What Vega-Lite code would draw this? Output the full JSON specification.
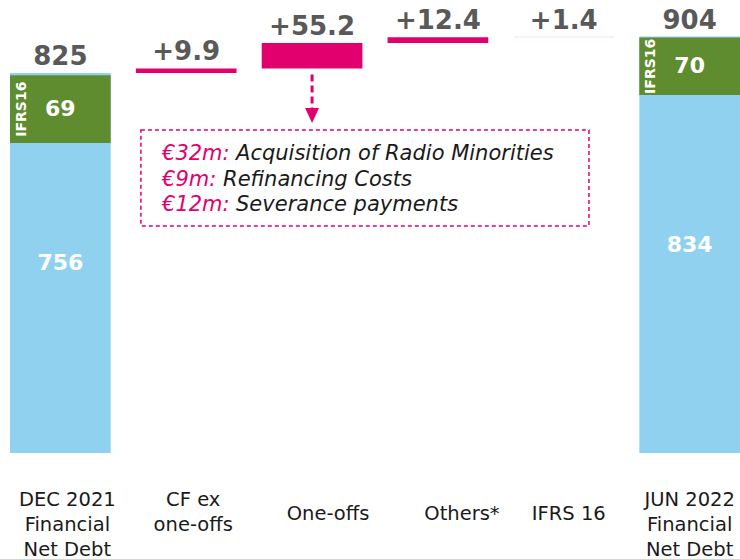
{
  "$schema": "https://vega.github.io/schema/vega-lite/v6.json",
  "width": 730,
  "height": 453,
  "autosize": {"type": "none"},
  "padding": {"left": 10, "top": 0, "right": 0, "bottom": 106},
  "config": {"view": {"stroke": null}, "font": "DejaVu Sans"},
  "datasets": {
    "bars": [
      {"cat": "DEC 2021|Financial|Net Debt", "seg": "base", "start": 0, "end": 825, "top": "825", "inl": "756"},
      {"cat": "DEC 2021|Financial|Net Debt", "seg": "ifrs", "start": 673, "end": 820, "inl": "69"},
      {"cat": "CF ex|one-offs", "seg": "up", "start": 825, "end": 834.9, "top": "+9.9"},
      {"cat": "One-offs", "seg": "up", "start": 834.9, "end": 890.1, "top": "+55.2"},
      {"cat": "Others*", "seg": "up", "start": 890.1, "end": 902.5, "top": "+12.4"},
      {"cat": "IFRS 16", "seg": "small", "start": 902.5, "end": 903.9, "top": "+1.4"},
      {"cat": "JUN 2022|Financial|Net Debt", "seg": "base", "start": 0, "end": 904, "top": "904", "inl": "834"},
      {"cat": "JUN 2022|Financial|Net Debt", "seg": "ifrs", "start": 777, "end": 902, "inl": "70"}
    ]
  },
  "encoding": {
    "x": {
      "field": "cat",
      "type": "nominal",
      "sort": null,
      "title": null,
      "scale": {
        "domain": ["DEC 2021|Financial|Net Debt", "CF ex|one-offs", "One-offs", "Others*", "IFRS 16", "JUN 2022|Financial|Net Debt"],
        "paddingInner": 0.2,
        "paddingOuter": 0
      },
      "axis": {
        "labelExpr": "split(datum.label, '|')",
        "labelFont": "DejaVu Sans",
        "labelFontSize": 19.5,
        "labelLineHeight": 25.3,
        "labelBaseline": "top",
        "labelAngle": 0,
        "labelColor": "#1a1a1a",
        "labelLimit": 300,
        "labelOverlap": false,
        "ticks": false,
        "tickSize": 0,
        "domain": false,
        "labelPadding": {"condition": {"test": "indexof(datum.value, '|') < 0", "value": 51}, "value": 37},
        "labelOffset": {
          "condition": [
            {"test": "datum.value == 'One-offs'", "value": 16},
            {"test": "datum.value == 'Others*'", "value": 24},
            {"test": "datum.value == 'IFRS 16'", "value": 5},
            {"test": "indexof(datum.value, 'JUN') == 0", "value": 0}
          ],
          "value": 7
        }
      }
    }
  },
  "layer": [
    {
      "data": {"name": "bars"},
      "mark": {"type": "bar"},
      "encoding": {
        "y": {"field": "start", "type": "quantitative", "scale": {"domain": [0, 983.5], "nice": false}, "axis": null},
        "y2": {"field": "end"},
        "color": {
          "field": "seg",
          "type": "nominal",
          "scale": {"domain": ["base", "ifrs", "up", "small"], "range": ["#8fd1ef", "#5f8c2f", "#e1006e", "#f4c3d4"]},
          "legend": null
        }
      }
    },
    {
      "data": {"name": "bars"},
      "transform": [{"filter": "datum.top != null"}],
      "mark": {"type": "text", "baseline": "alphabetic", "align": "center", "dy": -8, "fontSize": 26, "fontWeight": "bold", "font": "DejaVu Sans", "color": "#595959"},
      "encoding": {
        "y": {"field": "end", "type": "quantitative", "scale": {"domain": [0, 983.5], "nice": false}, "axis": null},
        "text": {"field": "top"}
      }
    },
    {
      "data": {"name": "bars"},
      "transform": [
        {"filter": "datum.inl != null"},
        {"fold": ["start", "end"], "as": ["k", "v"]},
        {"aggregate": [{"op": "mean", "field": "v", "as": "mid"}], "groupby": ["cat", "seg", "inl"]}
      ],
      "layer": [
        {
          "mark": {"type": "text", "baseline": "middle", "align": "center", "fontSize": 22, "fontWeight": "bold", "font": "DejaVu Sans", "color": "#ffffff"},
          "encoding": {
            "y": {"field": "mid", "type": "quantitative", "scale": {"domain": [0, 983.5], "nice": false}, "axis": null},
            "text": {"field": "inl"}
          }
        },
        {
          "transform": [{"filter": "datum.seg == 'ifrs'"}],
          "mark": {"type": "text", "baseline": "middle", "align": "center", "angle": 270, "fontSize": 14, "fontWeight": "bold", "font": "DejaVu Sans", "color": "#ffffff"},
          "encoding": {
            "x": {"field": "cat", "type": "nominal", "sort": null, "bandPosition": 0.12},
            "y": {"field": "mid", "type": "quantitative", "scale": {"domain": [0, 983.5], "nice": false}, "axis": null},
            "text": {"value": "IFRS16"}
          }
        }
      ]
    },
    {
      "data": {"values": [{}]},
      "mark": {"type": "rect", "fill": "transparent", "stroke": "#e1006e", "strokeDash": [4, 3], "strokeWidth": 1.5},
      "encoding": {
        "x": {"datum": "CF ex|one-offs", "type": "nominal", "bandPosition": 0.05},
        "x2": {"datum": "IFRS 16", "bandPosition": 0.75},
        "y": {"datum": 701, "type": "quantitative", "scale": {"domain": [0, 983.5], "nice": false}, "axis": null},
        "y2": {"datum": 493}
      }
    },
    {
      "data": {"values": [{}]},
      "mark": {"type": "rule", "color": "#e1006e", "strokeDash": [7, 4], "strokeWidth": 3},
      "encoding": {
        "x": {"datum": "One-offs", "type": "nominal", "bandPosition": 0.5},
        "y": {"datum": 822, "type": "quantitative", "scale": {"domain": [0, 983.5], "nice": false}, "axis": null},
        "y2": {"datum": 749}
      }
    },
    {
      "data": {"values": [{}]},
      "mark": {"type": "point", "shape": "M-0.93,-1L0.93,-1L0,1Z", "size": 225, "filled": true, "color": "#e1006e", "opacity": 1, "strokeWidth": 0},
      "encoding": {
        "x": {"datum": "One-offs", "type": "nominal", "bandPosition": 0.5},
        "y": {"datum": 732.7, "type": "quantitative", "scale": {"domain": [0, 983.5], "nice": false}, "axis": null}
      }
    },
    {
      "data": {"values": [{}]},
      "mark": {"type": "text", "align": "left", "baseline": "alphabetic", "lineHeight": 25.5, "fontSize": 21, "fontStyle": "italic", "font": "DejaVu Sans", "color": "#e1006e"},
      "encoding": {
        "x": {"datum": "CF ex|one-offs", "type": "nominal", "bandPosition": 0.26},
        "y": {"datum": 636, "type": "quantitative", "scale": {"domain": [0, 983.5], "nice": false}, "axis": null},
        "text": {"value": ["€32m:", "€9m:", "€12m:"]}
      }
    },
    {
      "data": {"values": [{}]},
      "mark": {"type": "text", "align": "left", "baseline": "alphabetic", "dx": 74, "dy": 0, "fontSize": 21, "fontStyle": "italic", "font": "DejaVu Sans", "color": "#1a1a1a"},
      "encoding": {
        "x": {"datum": "CF ex|one-offs", "type": "nominal", "bandPosition": 0.26},
        "y": {"datum": 636, "type": "quantitative", "scale": {"domain": [0, 983.5], "nice": false}, "axis": null},
        "text": {"value": "Acquisition of Radio Minorities"}
      }
    },
    {
      "data": {"values": [{}]},
      "mark": {"type": "text", "align": "left", "baseline": "alphabetic", "dx": 61, "dy": 25.5, "fontSize": 21, "fontStyle": "italic", "font": "DejaVu Sans", "color": "#1a1a1a"},
      "encoding": {
        "x": {"datum": "CF ex|one-offs", "type": "nominal", "bandPosition": 0.26},
        "y": {"datum": 636, "type": "quantitative", "scale": {"domain": [0, 983.5], "nice": false}, "axis": null},
        "text": {"value": "Refinancing Costs"}
      }
    },
    {
      "data": {"values": [{}]},
      "mark": {"type": "text", "align": "left", "baseline": "alphabetic", "dx": 74, "dy": 51, "fontSize": 21, "fontStyle": "italic", "font": "DejaVu Sans", "color": "#1a1a1a"},
      "encoding": {
        "x": {"datum": "CF ex|one-offs", "type": "nominal", "bandPosition": 0.26},
        "y": {"datum": 636, "type": "quantitative", "scale": {"domain": [0, 983.5], "nice": false}, "axis": null},
        "text": {"value": "Severance payments"}
      }
    }
  ]
}
